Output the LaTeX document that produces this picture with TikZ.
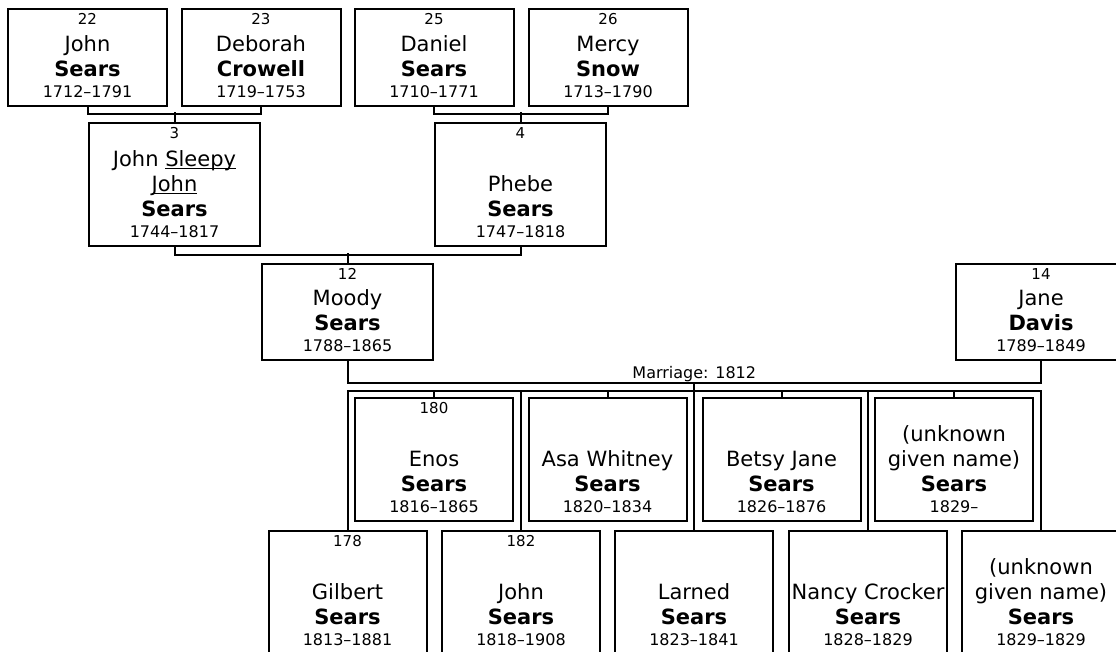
\documentclass[tikz,border=0pt]{standalone}
\usepackage{fontspec}
\setmainfont{DejaVu Sans}
\usetikzlibrary{calc}
\newcommand\myul[1]{\setbox0\hbox{#1}\rlap{\vrule height -1.6pt depth 3pt width \wd0}\box0}
\tikzset{
 pbox/.style={draw, line width=2pt, inner sep=0pt, anchor=north},
 smallbox/.style={pbox, minimum width=159pt, minimum height=97pt},
 bigbox/.style={pbox, minimum width=171pt, minimum height=123pt},
 midbox/.style={pbox, minimum width=171pt, minimum height=96pt},
 kidbox/.style={pbox, minimum width=158pt, minimum height=123pt},
 txt/.style={inner sep=0pt, anchor=base},
 numtxt/.style={txt, font=\fontsize{15}{18}\selectfont},
 nametxt/.style={txt, font=\fontsize{21}{25}\selectfont},
 surtxt/.style={txt, font=\fontsize{21}{25}\selectfont\bfseries},
 datetxt/.style={txt, font=\fontsize{16}{19}\selectfont},
 conn/.style={line width=2pt},
}
\newcommand\person[9]{%
 \node[#2] (#1) at (#3,#4) {};
 \if\relax\detokenize{#5}\relax\else\path (#1.north) ++(0,16) node[numtxt] (#1-n) {#5};\fi
 \if\relax\detokenize{#6}\relax\else\path (#1.south) ++(0,-81) node[nametxt] (#1-ga) {#6};\fi
 \path (#1.south) ++(0,-56) node[nametxt] (#1-gb) {#7};
 \path (#1.south) ++(0,-31) node[surtxt] (#1-s) {#8};
 \path (#1.south) ++(0,-10) node[datetxt] (#1-d) {#9};
}
\begin{document}
\begin{tikzpicture}[x=1pt,y=-1pt]
\useasboundingbox (0,0) rectangle (1116,651);
\clip (0,0) rectangle (1116,651);
\person{n22}{smallbox}{87.5}{8}{22}{}{John}{Sears}{1712–1791}
\person{n23}{smallbox}{261}{8}{23}{}{Deborah}{Crowell}{1719–1753}
\person{n25}{smallbox}{434}{8}{25}{}{Daniel}{Sears}{1710–1771}
\person{n26}{smallbox}{608}{8}{26}{}{Mercy}{Snow}{1713–1790}
\person{n3}{bigbox}{174.5}{122}{3}{John \myul{Sleepy}}{\myul{John}}{Sears}{1744–1817}
\person{n4}{bigbox}{520.5}{122}{4}{}{Phebe}{Sears}{1747–1818}
\person{n12}{midbox}{347.5}{263}{12}{}{Moody}{Sears}{1788–1865}
\person{n14}{midbox}{1041}{263}{14}{}{Jane}{Davis}{1789–1849}
\person{c180}{kidbox}{434}{397}{180}{}{Enos}{Sears}{1816–1865}
\person{casa}{kidbox}{607.5}{397}{}{}{Asa Whitney}{Sears}{1820–1834}
\person{cbetsy}{kidbox}{781.5}{397}{}{}{Betsy Jane}{Sears}{1826–1876}
\person{cunka}{kidbox}{954}{397}{}{(unknown}{given name)}{Sears}{1829–}
\person{c178}{kidbox}{347.5}{530}{178}{}{Gilbert}{Sears}{1813–1881}
\person{c182}{kidbox}{521}{530}{182}{}{John}{Sears}{1818–1908}
\person{clarned}{kidbox}{694}{530}{}{}{Larned}{Sears}{1823–1841}
\person{cnancy}{kidbox}{868}{530}{}{}{Nancy Crocker}{Sears}{1828–1829}
\person{cunkb}{kidbox}{1041}{530}{}{(unknown}{given name)}{Sears}{1829–1829}
% connectors
\draw[conn] (n22.south) -- ++(0,7) -| (n23.south);
\draw[conn] (n3.north) -- ++(0,-10);
\draw[conn] (n25.south) -- ++(0,7) -| (n26.south);
\draw[conn] (n4.north) -- ++(0,-10);
\draw[conn] (n3.south) -- ++(0,8) -| (n4.south);
\draw[conn] (n12.north) -- ++(0,-10);
\draw[conn] (n12.south) -- ++(0,22) coordinate (m1) -| (n14.south);
\coordinate (m2) at (m1 -| n14.south);
\coordinate (mm) at ($(m1)!0.5!(m2)$);
\node[datetxt] (marr) at ($(mm)+(0,-5)$) {Marriage: 1812};
\coordinate (bary) at ($(m1)+(0,8)$);
\draw[conn] (mm) -- (mm |- clarned.north);
\draw[conn] (c178.north) -- (c178.north |- bary) -- (cunkb.north |- bary) -- (cunkb.north);
\foreach \c in {c182,cnancy} \draw[conn] (\c.north) -- (\c.north |- bary);
\foreach \c in {c180,casa,cbetsy,cunka} \draw[conn] (\c.north) -- (\c.north |- bary);
\end{tikzpicture}
\end{document}
